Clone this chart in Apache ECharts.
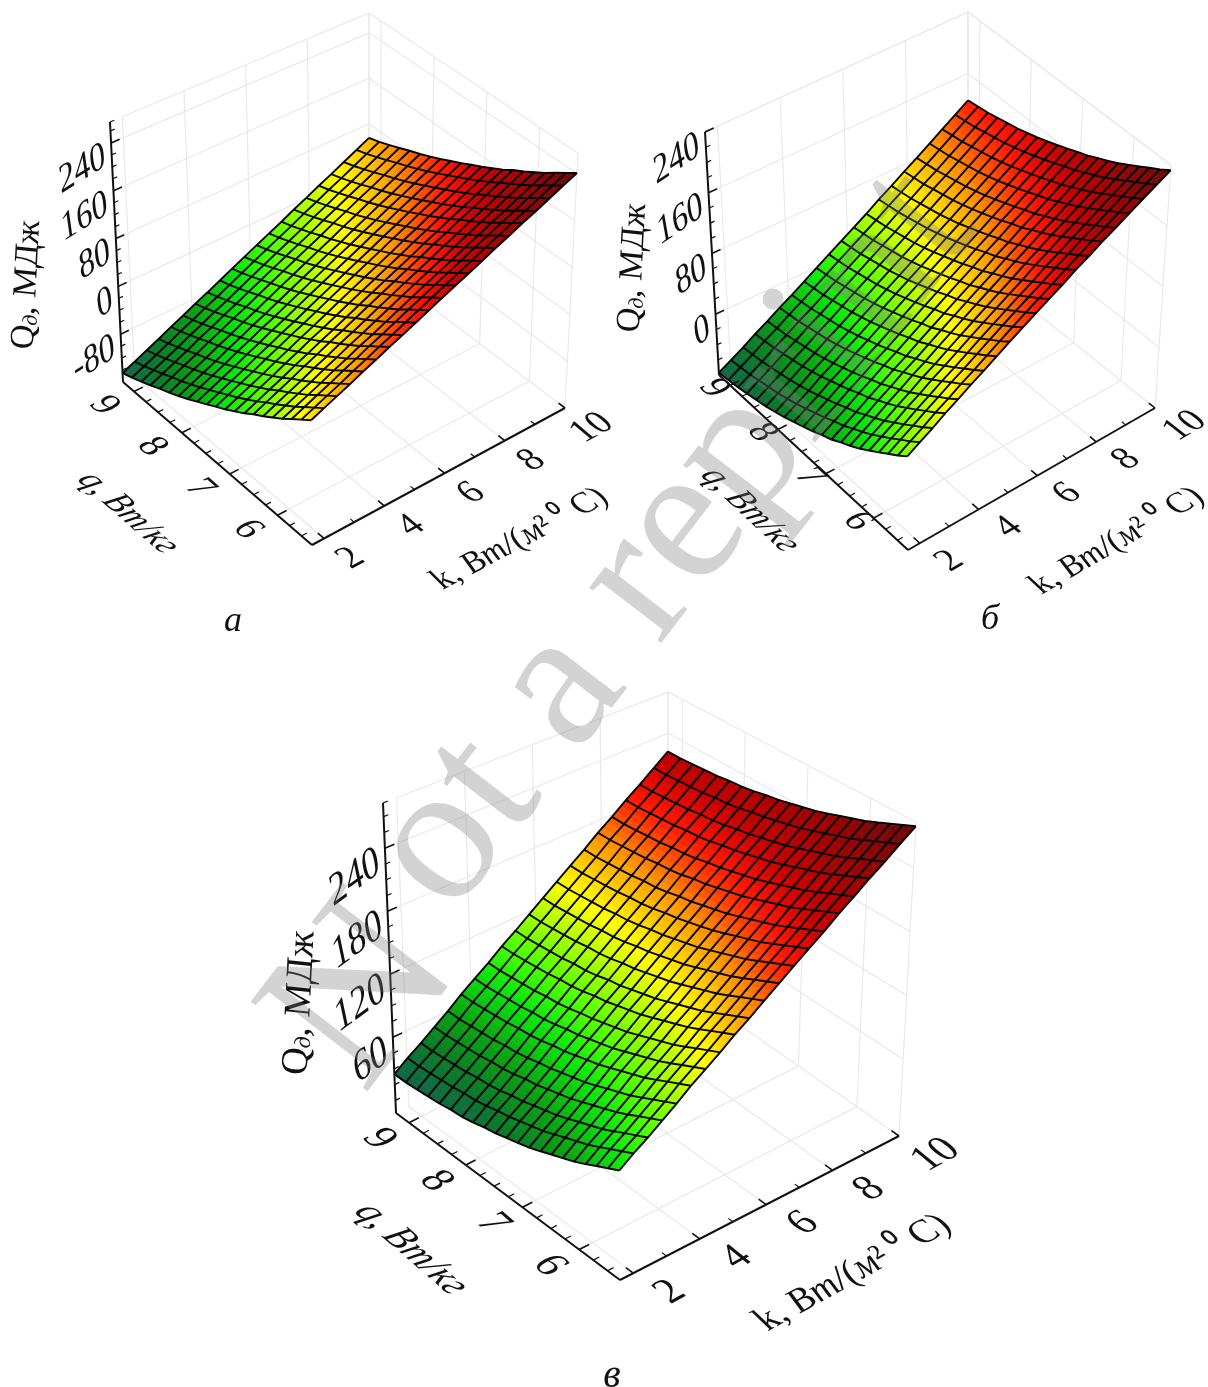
<!DOCTYPE html>
<html><head><meta charset="utf-8">
<style>html,body{margin:0;padding:0;background:#fff}#c{width:1208px;height:1387px}</style>
<script src="https://cdn.jsdelivr.net/npm/echarts@6/dist/echarts.min.js"></script>
</head><body><div id="c"></div>
<script>
// ---- data ----
const kValues=[1.6,2.02,2.44,2.86,3.28,3.7,4.12,4.54,4.96,5.38,5.8,6.22,6.64,7.06,7.48,7.9,8.32,8.74,9.16,9.58,10];
const qValues=[5.28,5.48,5.68,5.87,6.07,6.27,6.47,6.66,6.86,7.06,7.26,7.45,7.65,7.85,8.04,8.24,8.44,8.64,8.83,9.03,9.23];
const kTicks=[2,3,4,5,6,7,8,9,10];
const kLabels=[2,4,6,8,10];
const qTicks=[5.5,5.75,6,6.25,6.5,6.75,7,7.25,7.5,7.75,8,8.25,8.5,8.75,9];
const qLabels=[6,7,8,9];
const QLabelsA=[-80,0,80,160,240];
const QLabelsB=[0,80,160,240];
const QLabelsC=[60,120,180,240];
const QMinorA=[-140,-120,-100,-60,-40,-20,20,40,60,100,120,140,180,200,220,260];
const QMinorB=[-60,-40,-20,20,40,60,100,120,140,180,200,220];
const QMinorC=[0,15,30,45,75,90,105,135,150,165,195,210,225,255,270];
const surfaceA=[
[41,50,59,68,78,87,97,106,116,126,136,146,156,166,177,187,198,208,219,230,241],
[29,38,47,56,66,75,85,94,104,114,124,134,144,154,165,175,186,196,207,218,229],
[17,26,35,44,54,63,73,82,92,102,112,122,132,142,153,163,174,184,195,206,217],
[5,14,23,32,42,51,61,70,80,90,100,110,120,130,141,151,162,172,183,194,205],
[-6,3,12,21,31,40,50,59,69,79,89,99,109,119,130,140,151,161,172,183,194],
[-17,-8,1,10,20,29,39,48,58,68,78,88,98,108,119,129,140,150,161,172,183],
[-27,-18,-9,0,10,19,29,38,48,58,68,78,88,98,109,119,130,140,151,162,173],
[-38,-29,-20,-11,-1,8,18,27,37,47,57,67,77,87,98,108,119,129,140,151,162],
[-48,-39,-30,-21,-11,-2,8,17,27,37,47,57,67,77,88,98,109,119,130,141,152],
[-58,-49,-40,-31,-21,-12,-2,7,17,27,37,47,57,67,78,88,99,109,120,131,142],
[-67,-58,-49,-40,-30,-21,-11,-2,8,18,28,38,48,58,69,79,90,100,111,122,133],
[-76,-67,-58,-49,-39,-30,-20,-11,-1,9,19,29,39,49,60,70,81,91,102,113,124],
[-85,-76,-67,-58,-48,-39,-29,-20,-10,0,10,20,30,40,51,61,72,82,93,104,115],
[-94,-85,-76,-67,-57,-48,-38,-29,-19,-9,1,11,21,31,42,52,63,73,84,95,106],
[-102,-93,-84,-75,-65,-56,-46,-37,-27,-17,-7,3,13,23,34,44,55,65,76,87,98],
[-110,-101,-92,-83,-73,-64,-54,-45,-35,-25,-15,-5,5,15,26,36,47,57,68,79,90],
[-117,-108,-99,-90,-80,-71,-61,-52,-42,-32,-22,-12,-2,8,19,29,40,50,61,72,83],
[-125,-116,-107,-98,-88,-79,-69,-60,-50,-40,-30,-20,-10,0,11,21,32,42,53,64,75],
[-132,-123,-114,-105,-95,-86,-76,-67,-57,-47,-37,-27,-17,-7,4,14,25,35,46,57,68],
[-139,-130,-121,-112,-102,-93,-83,-74,-64,-54,-44,-34,-24,-14,-3,7,18,28,39,50,61],
[-145,-136,-127,-118,-108,-99,-89,-80,-70,-60,-50,-40,-30,-20,-9,1,12,22,33,44,55]];
const surfaceB=[
[31,40,49,59,68,78,87,97,107,117,127,137,147,158,168,179,189,200,211,222,233],
[22,31,40,50,59,69,78,88,98,108,118,128,138,149,159,170,180,191,202,213,224],
[14,23,32,42,51,61,70,80,90,100,110,120,130,141,151,162,172,183,194,205,216],
[6,15,24,34,43,53,62,72,82,92,102,112,122,133,143,154,164,175,186,197,208],
[-2,7,16,26,35,45,54,64,74,84,94,104,114,125,135,146,156,167,178,189,200],
[-10,-1,8,18,27,37,46,56,66,76,86,96,106,117,127,138,148,159,170,181,192],
[-17,-8,1,11,20,30,39,49,59,69,79,89,99,110,120,131,141,152,163,174,185],
[-23,-14,-5,5,14,24,33,43,53,63,73,83,93,104,114,125,135,146,157,168,179],
[-30,-21,-12,-2,7,17,26,36,46,56,66,76,86,97,107,118,128,139,150,161,172],
[-35,-26,-17,-7,2,12,21,31,41,51,61,71,81,92,102,113,123,134,145,156,167],
[-41,-32,-23,-13,-4,6,15,25,35,45,55,65,75,86,96,107,117,128,139,150,161],
[-46,-37,-28,-18,-9,1,10,20,30,40,50,60,70,81,91,102,112,123,134,145,156],
[-51,-42,-33,-23,-14,-4,5,15,25,35,45,55,65,76,86,97,107,118,129,140,151],
[-56,-47,-38,-28,-19,-9,0,10,20,30,40,50,60,71,81,92,102,113,124,135,146],
[-60,-51,-42,-32,-23,-13,-4,6,16,26,36,46,56,67,77,88,98,109,120,131,142],
[-64,-55,-46,-36,-27,-17,-8,2,12,22,32,42,52,63,73,84,94,105,116,127,138],
[-67,-58,-49,-39,-30,-20,-11,-1,9,19,29,39,49,60,70,81,91,102,113,124,135],
[-70,-61,-52,-42,-33,-23,-14,-4,6,16,26,36,46,57,67,78,88,99,110,121,132],
[-73,-64,-55,-45,-36,-26,-17,-7,3,13,23,33,43,54,64,75,85,96,107,118,129],
[-75,-66,-57,-47,-38,-28,-19,-9,1,11,21,31,41,52,62,73,83,94,105,116,127],
[-77,-68,-59,-49,-40,-30,-21,-11,-1,9,19,29,39,50,60,71,81,92,103,114,125]];
const surfaceC=[
[83,92,100,109,118,128,137,146,156,165,175,185,195,205,215,226,236,247,257,268,279],
[78,87,95,104,113,123,132,141,151,160,170,180,190,200,210,221,231,242,252,263,274],
[73,82,90,99,108,118,127,136,146,155,165,175,185,195,205,216,226,237,247,258,269],
[68,77,85,94,103,113,122,131,141,150,160,170,180,190,200,211,221,232,242,253,264],
[63,72,80,89,98,108,117,126,136,145,155,165,175,185,195,206,216,227,237,248,259],
[59,68,76,85,94,104,113,122,132,141,151,161,171,181,191,202,212,223,233,244,255],
[55,64,72,81,90,100,109,118,128,137,147,157,167,177,187,198,208,219,229,240,251],
[51,60,68,77,86,96,105,114,124,133,143,153,163,173,183,194,204,215,225,236,247],
[47,56,64,73,82,92,101,110,120,129,139,149,159,169,179,190,200,211,221,232,243],
[44,53,61,70,79,89,98,107,117,126,136,146,156,166,176,187,197,208,218,229,240],
[41,50,58,67,76,86,95,104,114,123,133,143,153,163,173,184,194,205,215,226,237],
[38,47,55,64,73,83,92,101,111,120,130,140,150,160,170,181,191,202,212,223,234],
[36,45,53,62,71,81,90,99,109,118,128,138,148,158,168,179,189,200,210,221,232],
[33,42,50,59,68,78,87,96,106,115,125,135,145,155,165,176,186,197,207,218,229],
[31,40,48,57,66,76,85,94,104,113,123,133,143,153,163,174,184,195,205,216,227],
[30,39,47,56,65,75,84,93,103,112,122,132,142,152,162,173,183,194,204,215,226],
[28,37,45,54,63,73,82,91,101,110,120,130,140,150,160,171,181,192,202,213,224],
[27,36,44,53,62,72,81,90,100,109,119,129,139,149,159,170,180,191,201,212,223],
[26,35,43,52,61,71,80,89,99,108,118,128,138,148,158,169,179,190,200,211,222],
[25,34,42,51,60,70,79,88,98,107,117,127,137,147,157,168,178,189,199,210,221],
[25,34,42,51,60,70,79,88,98,107,117,127,137,147,157,168,178,189,199,210,221]];
const qTitle='q, Вт/кг';
const captions=['а','б','в'];
const watermarkHead='N';
const watermarkTail='ot a reprint';

// ---- layout ----
const SERIF='"Liberation Serif"';
const panels=[
 {data:surfaceA,Q:[-160,275],labels:QLabelsA,minor:QMinorA,cap:captions[0],capXY:[233,622],box:[0,0,604,650],fs:36,
  F:[312,545],L:[123,382],R:[565,408],B:[369,260],Ft:[310,275],Lt:[110,122],Rt:[578,153],Bt:[369,13],
  kOff:[27,20],qOff:[-30,14],QAnchor:[-6,12],QRot:32,qT:[128,513],kT:[520,539],QT:[27,285],kRot:28,qRot:41},
 {data:surfaceB,Q:[-80,240],labels:QLabelsB,minor:QMinorB,cap:captions[1],capXY:[990,620],box:[604,0,604,650],fs:36,
  F:[908,550],L:[719,375],R:[1155,408],B:[968,258],Ft:[906,280],Lt:[705,132],Rt:[1171,165],Bt:[968,12],
  kOff:[30,18],qOff:[-16,3],QAnchor:[-6,12],QRot:34,qT:[750,510],kT:[1117,541],QT:[633,268],kRot:30,qRot:43},
 {data:surfaceC,Q:[-12,283],labels:QLabelsC,minor:QMinorC,cap:captions[2],capXY:[612,1376],box:[200,660,808,727],fs:40,
  F:[620,1280],R:[899,1136],L:[396,1113],B:[668,975],Ft:[618,940],Lt:[383,803],Rt:[916,822],Bt:[668,692],
  kOff:[37,19],qOff:[-30,16],QAnchor:[-6,12],QRot:36,qT:[411,1249],kT:[853,1273],QT:[300,1003],kRot:29,qRot:41}
];
const kMin=kValues[0],kMax=kValues[20],qMin=qValues[0],qMax=qValues[20];
function lerp2(a,b,t){return [a[0]+(b[0]-a[0])*t,a[1]+(b[1]-a[1])*t];}
function project(p,k,q,Qv){
  const u=(k-kMin)/(kMax-kMin),v=(q-qMin)/(qMax-qMin),w=(Qv-p.Q[0])/(p.Q[1]-p.Q[0]);
  const bot=lerp2(lerp2(p.F,p.R,u),lerp2(p.L,p.B,u),v);
  const top=lerp2(lerp2(p.Ft,p.Rt,u),lerp2(p.Lt,p.Bt,u),v);
  return lerp2(bot,top,w);
}
const stops=[[0,[17,100,74]],[.07,[10,122,40]],[.14,[10,160,18]],[.23,[11,230,10]],[.3,[80,255,0]],[.37,[168,255,0]],[.44,[255,255,0]],[.5,[255,200,0]],[.56,[255,140,0]],[.61,[255,74,0]],[.66,[255,20,0]],[.74,[200,0,0]],[.82,[168,0,0]],[1,[106,8,8]]];
function colorAt(t){
  t=Math.max(0,Math.min(1,t));
  for(let i=1;i<stops.length;i++){ if(t<=stops[i][0]){
    const a=stops[i-1],b=stops[i],f=(t-a[0])/(b[0]-a[0]);
    const c=[0,1,2].map(n=>Math.round(a[1][n]+(b[1][n]-a[1][n])*f));
    return 'rgb('+c.join(',')+')';
  }}
  return 'rgb(106,8,8)';
}
const series=[],grids=[],xAxes=[],yAxes=[];
panels.forEach((p,pi)=>{
  const b=p.box;
  grids.push({left:b[0],top:b[1],width:b[2],height:b[3],show:false});
  xAxes.push({type:'value',gridIndex:pi,min:b[0],max:b[0]+b[2],show:false});
  yAxes.push({type:'value',gridIndex:pi,min:b[1],max:b[1]+b[3],inverse:true,show:false});
  const Qlo=p.Q[0],Qhi=p.Q[1];
  let lo=1e9,hi=-1e9; p.data.forEach(r=>r.forEach(v=>{lo=Math.min(lo,v);hi=Math.max(hi,v);}));
  const flat=(a)=>a.map((_,i)=>[i]);
  function lineSeries(segs,z){
    return {type:'custom',xAxisIndex:pi,yAxisIndex:pi,coordinateSystem:'cartesian2d',z,silent:true,clip:false,animation:false,progressive:0,
      data:flat(segs),
      renderItem(params,api){
        const s=segs[api.value(0)];
        return {type:'polyline',shape:{points:s.pts.map(c=>api.coord(project(p,c[0],c[1],c[2])))},style:{stroke:s.c,lineWidth:s.w,fill:null}};
      }};
  }
  // walls and floor grid
  const GR='#e9e9e9';
  const walls=[];
  kLabels.forEach(k=>{walls.push({pts:[[k,qMax,Qlo],[k,qMax,Qhi]],c:GR,w:1.2});walls.push({pts:[[k,qMin,Qlo],[k,qMax,Qlo]],c:GR,w:1.2});});
  qLabels.forEach(q=>{walls.push({pts:[[kMax,q,Qlo],[kMax,q,Qhi]],c:GR,w:1.2});walls.push({pts:[[kMin,q,Qlo],[kMax,q,Qlo]],c:GR,w:1.2});});
  p.labels.forEach(Qv=>{walls.push({pts:[[kMin,qMax,Qv],[kMax,qMax,Qv]],c:GR,w:1.2});walls.push({pts:[[kMax,qMin,Qv],[kMax,qMax,Qv]],c:GR,w:1.2});});
  walls.push({pts:[[2,qMax,Qhi],[kMax,qMax,Qhi],[kMax,qMin,Qhi],[kMax,qMin,Qlo]],c:GR,w:1.2});
  walls.push({pts:[[kMax,qMax,Qlo],[kMax,qMax,Qhi]],c:GR,w:1.2});
  series.push(lineSeries(walls,1));
  // surface cells
  const cells=[]; for(let j=0;j<20;j++)for(let i=0;i<20;i++)cells.push([i,j]);
  const N=3;
  series.push({type:'custom',xAxisIndex:pi,yAxisIndex:pi,coordinateSystem:'cartesian2d',z:2,silent:true,clip:false,animation:false,progressive:0,
    data:cells,
    renderItem(params,api){
      const i=api.value(0),j=api.value(1),D=p.data;
      const k0=kValues[i],k1=kValues[i+1],q0=qValues[j],q1=qValues[j+1];
      const at=(a,c)=>{
        const v=D[j][i]*(1-a)*(1-c)+D[j][i+1]*a*(1-c)+D[j+1][i]*(1-a)*c+D[j+1][i+1]*a*c;
        return {pt:api.coord(project(p,k0+(k1-k0)*a,q0+(q1-q0)*c,v)),v};
      };
      const kids=[];
      for(let a=0;a<N;a++)for(let c=0;c<N;c++){
        const A=at(a/N,c/N),B=at((a+1)/N,c/N),C=at((a+1)/N,(c+1)/N),E=at(a/N,(c+1)/N);
        const col=colorAt(((A.v+B.v+C.v+E.v)/4-lo)/(hi-lo));
        kids.push({type:'polygon',shape:{points:[A.pt,B.pt,C.pt,E.pt]},style:{fill:col,stroke:col,lineWidth:.7}});
      }
      return {type:'group',children:kids};
    }});
  // mesh lines
  const mesh=[];
  for(let j=0;j<=20;j++)mesh.push({pts:kValues.map((k,i)=>[k,qValues[j],p.data[j][i]]),c:'#050505',w:1.9});
  for(let i=0;i<=20;i++)mesh.push({pts:qValues.map((q,j)=>[kValues[i],q,p.data[j][i]]),c:'#050505',w:1.9});
  series.push(lineSeries(mesh,3));
  // axes
  const ax=[];
  const K='#111';
  ax.push({pts:[[kMin,qMin,Qlo],[kMax,qMin,Qlo]],c:K,w:2});
  ax.push({pts:[[kMin,qMin,Qlo],[kMin,qMax,Qlo]],c:K,w:2});
  ax.push({pts:[[kMin,qMax,Qlo],[kMin,qMax,Qhi]],c:K,w:2});
  kTicks.forEach(k=>{const maj=kLabels.indexOf(k)>=0;ax.push({pts:[[k,qMin,Qlo],[k,qMin+(maj?.13:.08),Qlo]],c:K,w:maj?1.6:1.2});});
  qTicks.forEach(q=>{const maj=qLabels.indexOf(q)>=0;ax.push({pts:[[kMin,q,Qlo],[kMin+(maj?.3:.18),q,Qlo]],c:K,w:maj?1.6:1.2});});
  p.labels.forEach(v=>ax.push({pts:[[kMin,qMax,v],[kMin+.28,qMax,v]],c:K,w:1.6}));
  p.minor.forEach(v=>{ax.push({pts:[[kMin,qMax,v],[kMin+.14,qMax,v]],c:K,w:1.2});});
  ax.push({pts:[[kMin,qMax,Qhi],[kMin+.14,qMax,Qhi]],c:K,w:1.2});
  series.push(lineSeries(ax,4));
  // texts
  const texts=[];
  const fnt=(s,it)=>(it?'italic ':'')+s+'px '+SERIF;
  const rad=d=>d*Math.PI/180;
  kLabels.forEach(k=>texts.push({at:[k,qMin,Qlo],off:p.kOff,text:String(k),font:fnt(p.fs),align:'center',rot:p.kRot,skew:.38}));
  qLabels.forEach(q=>texts.push({at:[kMin,q,Qlo],off:p.qOff,text:String(q),font:fnt(p.fs),align:'center',rot:-p.qRot,skew:-.4}));
  p.labels.forEach(v=>texts.push({at:[kMin,qMax,v],off:p.QAnchor,text:String(v),font:fnt(p.fs),align:'right',rot:p.QRot,skew:-.42}));
  texts.push({xy:p.qT,text:qTitle,font:fnt(p.fs-3,true),align:'center',rot:-p.qRot,skew:-.4});
  texts.push({xy:p.kT,text:'{a|k, }{i|Вт/(м}{a|² ⁰ C)}',rich:{a:{font:fnt(p.fs-3),fill:'#111'},i:{font:fnt(p.fs-3,true),fill:'#111'}},font:fnt(p.fs-3),align:'center',rot:p.kRot,skew:.3});
  texts.push({xy:p.QT,text:'{a|Q}{s|д}{a|, МДж}',rich:{a:{font:fnt(p.fs-2),fill:'#111'},s:{font:fnt(Math.round(p.fs*.58),true),fill:'#111',padding:[12,0,0,0]}},font:fnt(p.fs-2),align:'center',rot:87,skew:-.05});
  texts.push({xy:p.capXY,text:p.cap,font:fnt(p.fs,true),align:'center',rot:0,skew:0});
  series.push({type:'custom',xAxisIndex:pi,yAxisIndex:pi,coordinateSystem:'cartesian2d',z:5,silent:true,clip:false,animation:false,progressive:0,
    data:flat(texts),
    renderItem(params,api){
      const t=texts[api.value(0)];
      let xy;
      if(t.xy)xy=api.coord(t.xy);
      else{const c=api.coord(project(p,t.at[0],t.at[1],t.at[2]));xy=[c[0]+t.off[0],c[1]+t.off[1]];}
      const st={text:t.text,font:t.font,fill:'#111',align:t.align,verticalAlign:'middle'};
      if(t.rich)st.rich=t.rich;
      return {type:'text',x:xy[0],y:xy[1],rotation:rad(t.rot),skewX:t.skew,style:st};
    }});
});
const chart=echarts.init(document.getElementById('c'),null,{renderer:'canvas',width:1208,height:1387});
const WM={fill:'rgba(120,120,120,.33)',verticalAlign:'middle'};
chart.setOption({animation:false,backgroundColor:'#fff',grid:grids,xAxis:xAxes,yAxis:yAxes,series,
  graphic:[
   {type:'text',x:366,y:996,rotation:52.5*Math.PI/180,z:100,silent:true,style:Object.assign({text:watermarkHead,align:'center',font:'225px '+SERIF},WM)},
   {type:'text',x:410,y:885,rotation:52.5*Math.PI/180,z:100,silent:true,style:Object.assign({text:watermarkTail,align:'left',font:'198px '+SERIF},WM)}
  ]
});
</script></body></html>
